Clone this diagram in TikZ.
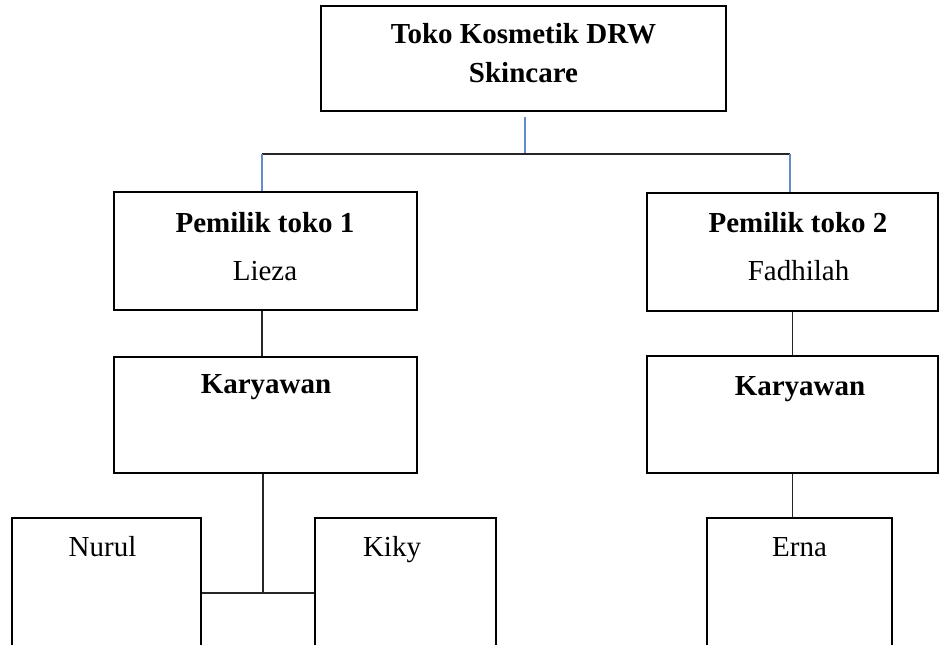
\documentclass[tikz,border=0pt]{standalone}
\usepackage{fontspec}
\setmainfont{Liberation Serif}
\usepackage{tikz}
\usetikzlibrary{positioning,calc}
\definecolor{LinkBlue}{RGB}{100, 140, 205}

\begin{document}
\begin{tikzpicture}[x=1pt, y=-1pt,
        box/.style={draw=black, line width=2.8pt, fill=white, inner sep=0pt},
        lbl/.style={anchor=base, inner sep=0pt, font=\fontsize{29}{34}\selectfont},
        bold/.style={font=\bfseries\fontsize{29}{34}\selectfont},
        conn/.style={line width=1.2pt, color=black!85},
        blueconn/.style={line width=1.2pt, color=LinkBlue}]
        \clip (0,0) rectangle (940,645);
        \fill[white] (0,0) rectangle (940,645);

        % top of the chart
        \node[box, minimum width=405pt, minimum height=105pt, align=center, text depth=12pt,
              font=\bfseries\fontsize{29}{39}\selectfont] (shop) at (523.5,58.5) {Toko Kosmetik DRW\\Skincare};

        % owners
        \node[box, minimum width=303pt, minimum height=118pt] (own1) at (265.5,251) {};
        \node[box, minimum width=291pt, minimum height=118pt] (own2) at (792.5,252) {};
        \node[lbl, bold] (own1title) at (265,232) {Pemilik toko 1};
        \node[lbl] (own1name) at (265,280) {Lieza};
        \node[lbl, bold] (own2title) at (798,232) {Pemilik toko 2};
        \node[lbl] (own2name) at (798.5,280) {Fadhilah};

        % employees
        \node[box, minimum width=303pt, minimum height=116pt] (kar1) at (265.5,415) {};
        \node[box, minimum width=291pt, minimum height=117pt] (kar2) at (792.5,414.5) {};
        \node[lbl, bold] (kar1title) at (266,393) {Karyawan};
        \node[lbl, bold] (kar2title) at (800,395) {Karyawan};

        % staff
        \node[box, minimum width=189pt, minimum height=170pt] (nurul) at (106.5,603) {};
        \node[box, minimum width=181pt, minimum height=170pt] (kiky) at (405.5,603) {};
        \node[box, minimum width=185pt, minimum height=170pt] (erna) at (799.5,603) {};
        \node[lbl] (nurultxt) at (102.5,556) {Nurul};
        \node[lbl] (kikytxt) at (392,556) {Kiky};
        \node[lbl] (ernatxt) at (799.5,556) {Erna};

        \coordinate (busL) at (262,154);
        \coordinate (busR) at (790,154);
        \coordinate (busM) at (525,154);
        \coordinate (foot) at (263,593);

        \draw[blueconn] ([xshift=1.5pt, yshift=-5pt]shop.south) -- (busM);
        \draw[conn] (busL) -- (busR);
        \draw[blueconn] (busL) -- (busL |- own1.north);
        \draw[blueconn] (busR) -- (busR |- own2.north);
        \draw[conn] (busL |- own1.south) -- (busL |- kar1.north);
        \draw[conn] (own2.south) -- (kar2.south |- kar2.north);
        \draw[conn] (foot |- kar1.south) -- (foot);
        \draw[conn] (nurul.east |- foot) -- (kiky.west |- foot);
        \draw[conn] (kar2.south) -- (kar2.south |- erna.north);
      \end{tikzpicture}
\end{document}
